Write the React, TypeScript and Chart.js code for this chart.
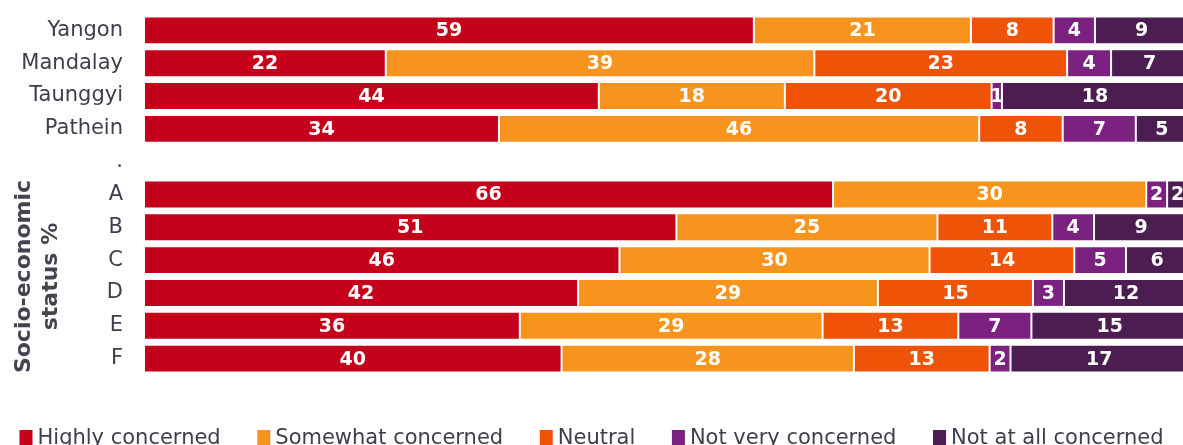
import React, { useEffect, useRef } from "react";
import { Chart, registerables } from "chart.js";

Chart.register(...registerables);

const categories = ["Yangon", "Mandalay", "Taunggyi", "Pathein", ".", "A", "B", "C", "D", "E", "F"];
const highlyConcerned = [59, 22, 44, 34, 0, 66, 51, 46, 42, 36, 40];
const somewhatConcerned = [21, 39, 18, 46, 0, 30, 25, 30, 29, 29, 28];
const neutral = [8, 23, 20, 8, 0, 0, 11, 14, 15, 13, 13];
const notVeryConcerned = [4, 4, 1, 7, 0, 2, 4, 5, 3, 7, 2];
const notAtAllConcerned = [9, 7, 18, 5, 0, 2, 9, 6, 12, 15, 17];

const seriesNames = ["Highly concerned", "Somewhat concerned", "Neutral", "Not very concerned", "Not at all concerned"];
const seriesColors = ["#C4001A", "#F7941E", "#EE5307", "#7B2280", "#4B1D51"];
const groupTitle = ["Socio-economic", "status %"];

const FONT = "'DejaVu Sans', Verdana, sans-serif";
const VISIBLE_W = 1183;

export default function App() {
  const ref = useRef<HTMLCanvasElement | null>(null);

  useEffect(() => {
    if (!ref.current) return;
    const raw = [highlyConcerned, somewhatConcerned, neutral, notVeryConcerned, notAtAllConcerned];
    const totals = categories.map((_, i) => raw.reduce((s, arr) => s + arr[i], 0));
    const datasets = raw.map((arr, k) => ({
      label: seriesNames[k],
      data: arr.map((v, i) => (totals[i] ? (v / totals[i]) * 100 : 0)),
      rawValues: arr,
      backgroundColor: seriesColors[k],
      borderColor: "rgba(255,255,255,0.45)",
      borderWidth: 1,
      borderSkipped: false,
      barPercentage: 0.85,
      categoryPercentage: 1,
    }));

    const valueLabels = {
      id: "valueLabels",
      afterDatasetsDraw(chart: any) {
        const ctx = chart.ctx;
        ctx.save();
        ctx.font = `bold 19px ${FONT}`;
        ctx.fillStyle = "#ffffff";
        ctx.textAlign = "center";
        ctx.textBaseline = "middle";
        chart.data.datasets.forEach((ds: any, di: number) => {
          const meta = chart.getDatasetMeta(di);
          meta.data.forEach((el: any, i: number) => {
            const v = ds.rawValues[i];
            if (!v) return;
            const p = el.getProps(["x", "y", "base"], true);
            ctx.fillText(String(v), (p.x + p.base) / 2, p.y + 1);
          });
        });
        ctx.restore();
      },
    };

    const extras = {
      id: "extras",
      afterDraw(chart: any) {
        const ctx = chart.ctx;
        const yScale = chart.scales.y;
        // group title
        const yA = yScale.getPixelForValue(5);
        const yF = yScale.getPixelForValue(10);
        const cy = (yA + yF) / 2;
        ctx.save();
        ctx.translate(37, cy);
        ctx.rotate(-Math.PI / 2);
        ctx.font = `bold 22px ${FONT}`;
        ctx.fillStyle = "#444450";
        ctx.textAlign = "center";
        ctx.textBaseline = "middle";
        ctx.fillText(groupTitle[0], 0, -13);
        ctx.fillText(groupTitle[1], 0, 14);
        ctx.restore();

        // legend
        ctx.save();
        ctx.font = `21px ${FONT}`;
        const box = 13;
        const gap = 5;
        const widths = seriesNames.map((n) => box + gap + ctx.measureText(n).width);
        const textTotal = widths.reduce((a, b) => a + b, 0);
        const span = 1144;
        const itemGap = Math.max(20, (span - textTotal) / (widths.length - 1));
        const total = textTotal + itemGap * (widths.length - 1);
        let x = VISIBLE_W / 2 - total / 2;
        const baseline = 444;
        seriesNames.forEach((n, k) => {
          ctx.fillStyle = seriesColors[k];
          ctx.fillRect(x, 430, box, 16);
          ctx.fillStyle = "#3e3e4c";
          ctx.textAlign = "left";
          ctx.textBaseline = "alphabetic";
          ctx.fillText(n, x + box + gap, baseline);
          x += widths[k] + itemGap;
        });
        ctx.restore();
      },
    };

    const chart = new Chart(ref.current, {
      type: "bar",
      data: { labels: categories, datasets: datasets as any },
      options: {
        indexAxis: "y",
        responsive: false,
        animation: false,
        devicePixelRatio: 1,
        layout: { padding: { top: 14, bottom: 75, right: 12, left: 0 } },
        plugins: { legend: { display: false }, tooltip: { enabled: false } },
        scales: {
          x: { stacked: true, min: 0, max: 100, display: false },
          y: {
            stacked: true,
            grid: { display: false, drawTicks: false },
            border: { display: false },
            ticks: { color: "#3e3e4c", font: { family: FONT, size: 21 }, padding: 21, autoSkip: false },
            afterFit: (scale: any) => {
              scale.width = 144;
              scale.paddingTop = 0;
              scale.paddingBottom = 0;
            },
          },
        },
      },
      plugins: [valueLabels, extras],
    });
    return () => chart.destroy();
  }, []);

  return (
    <div style={{ position: "fixed", left: 0, top: 0, width: VISIBLE_W, height: 445, overflow: "hidden", background: "#fff" }}>
      <canvas ref={ref} width={1200} height={450} />
    </div>
  );
}
